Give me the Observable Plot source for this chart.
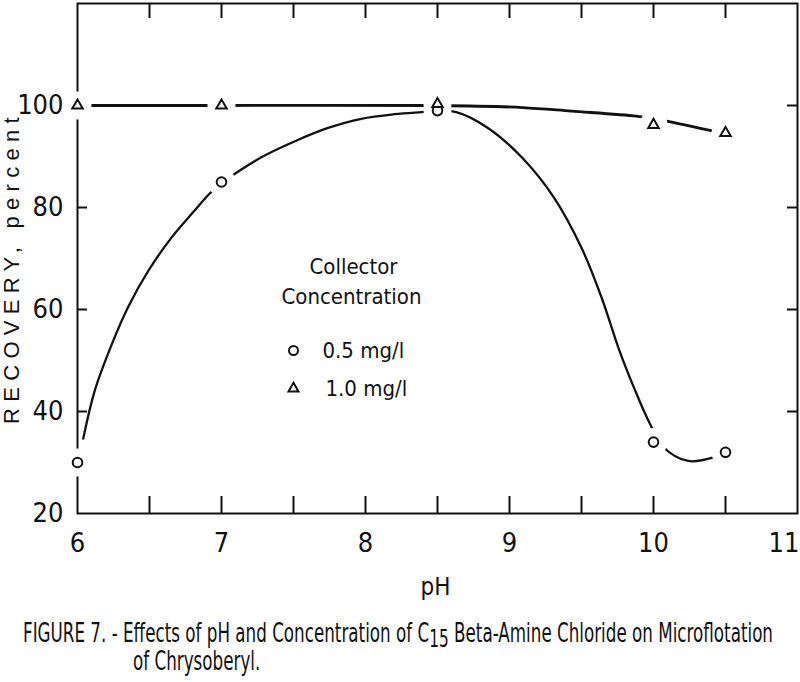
<!DOCTYPE html>
<html><head><meta charset="utf-8">
<script src="https://cdn.jsdelivr.net/npm/d3@7"></script>
<script src="https://cdn.jsdelivr.net/npm/@observablehq/plot@0.6"></script>
<style>
body{margin:0;background:#fff;}
#wrap{position:relative;width:800px;height:682px;overflow:hidden;background:#fff;}
.cap{position:absolute;font-family:"DejaVu Sans Condensed","Liberation Sans Narrow",sans-serif;font-size:26px;color:#111;white-space:nowrap;line-height:26px;transform-origin:0 50%;}
.sub{position:relative;top:5px;font-size:0.92em;}
</style></head><body>
<div id="wrap"><div id="chart"></div>
<div class="cap" id="cap1" style="left:23px;top:620px">FIGURE 7. - Effects of pH and Concentration of C<span class="sub">15</span> Beta-Amine Chloride on Microflotation</div>
<div class="cap" id="cap2" style="left:133px;top:648px">of Chrysoberyl.</div>
</div>
<script>
// measured points
const pH = [6, 7, 8.5, 10, 10.5];
const rec05 = [30, 85, 99, 34, 32];
const rec10 = [100, 100, 100.3, 96.2, 94.6];
// fitted curves
const fit05pH = [6.04, 6.12, 6.24, 6.35, 6.49, 6.65, 6.81, 6.92, 7.02, 7.13, 7.28, 7.51, 7.74, 7.97, 8.20, 8.39, 8.5, 8.63, 8.85, 9.09, 9.31, 9.50, 9.64, 9.76, 9.87, 9.97, 10.07, 10.24, 10.43, 10.47];
const fit05 = [34.7, 44.1, 53.3, 60.4, 67.5, 74.0, 79.3, 82.8, 85.2, 87.3, 89.9, 93.0, 95.6, 97.4, 98.3, 98.7, 98.9, 98.7, 95.6, 89.7, 81.9, 72.1, 62.3, 52.2, 44.3, 37.9, 33.0, 30.3, 31.1, 31.6];
const fit10pH = [6.0, 7.0, 8.5, 9.09, 9.43, 9.88, 10.0, 10.1, 10.43, 10.5];
const fit10 = [100, 100, 100, 99.6, 98.9, 97.9, 97.3, 96.9, 94.9, 94.6];
// axes
const xTickLabels = [6, 7, 8, 9, 10];
const xLastTick = [11];
const xMinorTicks = [6.5, 7, 7.5, 8, 8.5, 9, 9.5, 10, 10.5];
const yTickLabels = [20, 40, 60, 80, 100];
const yInnerTicks = [40, 60, 80, 100];
const xLabel = "pH";
const yLabel = "RECOVERY, percent";
const legendTitle = ["Collector", "Concentration"];
const legendLabels = ["0.5 mg/l", "1.0 mg/l"];

const circles = pH.map((x, i) => ({x, y: rec05[i]}));
const triangles = pH.map((x, i) => ({x, y: rec10[i]}));
const curve05 = fit05pH.map((x, i) => ({x, y: fit05[i]}));
const curve10 = fit10pH.map((x, i) => ({x, y: fit10[i]}));
const ink = "#111";
const font = "DejaVu Sans Condensed, Liberation Sans Narrow, sans-serif";

const chart = Plot.plot({
  width: 800, height: 600,
  marginLeft: 77, marginRight: 3, marginTop: 3, marginBottom: 87,
  x: {domain: [6, 11]},
  y: {domain: [20, 120]},
  style: {fontFamily: font, color: ink, background: "white", overflow: "visible"},
  marks: [
    Plot.frame({stroke: ink, strokeWidth: 2}),
    Plot.tickX(xMinorTicks, {x: d => d, insetTop: 493, stroke: ink, strokeWidth: 2}),
    Plot.tickX(xMinorTicks, {x: d => d, insetBottom: 495, stroke: ink, strokeWidth: 2}),
    Plot.tickY(yInnerTicks, {y: d => d, insetRight: 710, stroke: ink, strokeWidth: 2}),
    Plot.tickY(yInnerTicks, {y: d => d, insetLeft: 710, stroke: ink, strokeWidth: 2}),
    Plot.line(curve05, {x: "x", y: "y", curve: "catmull-rom", stroke: ink, strokeWidth: 2.3}),
    Plot.line(curve10, {x: "x", y: "y", curve: "catmull-rom", stroke: ink, strokeWidth: 2.8}),
    Plot.dot(circles.concat(triangles), {x: "x", y: "y", r: 14, fill: "white", stroke: null}),
    Plot.dot(circles, {x: "x", y: "y", r: 4.8, symbol: "circle", fill: "white", stroke: ink, strokeWidth: 2}),
    Plot.dot(triangles, {x: "x", y: "y", r: 3.9, symbol: "triangle", fill: "white", stroke: ink, strokeWidth: 2}),
    Plot.axisX({ticks: xTickLabels, tickSize: 0, tickPadding: 19, fontSize: 27, label: null, tickFormat: d => String(d)}),
    Plot.text(xLastTick, {x: d => d, frameAnchor: "bottom", dy: 19, dx: 2, textAnchor: "end", lineAnchor: "top", fontSize: 27, fill: ink}),
    Plot.axisY({ticks: yTickLabels, tickSize: 0, tickPadding: 14, fontSize: 27, label: null, tickFormat: d => String(d)}),
    Plot.text([xLabel], {frameAnchor: "bottom", dy: 74, dx: -2, lineAnchor: "middle", fontSize: 24, fill: ink}),
    Plot.text([yLabel], {frameAnchor: "left", rotate: -90, dx: -66, dy: 9, textAnchor: "middle", lineAnchor: "middle", fontSize: 22, fontFamily: "Liberation Sans, Arial, sans-serif", fill: ink}),
    Plot.text([legendTitle[0]], {frameAnchor: "top-left", dx: 276, dy: 263, textAnchor: "middle", lineAnchor: "middle", fontSize: 22, fill: ink}),
    Plot.text([legendTitle[1]], {frameAnchor: "top-left", dx: 274, dy: 293, textAnchor: "middle", lineAnchor: "middle", fontSize: 22, fill: ink}),
    Plot.dot([0], {frameAnchor: "top-left", dx: 216, dy: 347, r: 4.5, symbol: "circle", fill: "white", stroke: ink, strokeWidth: 2}),
    Plot.dot([0], {frameAnchor: "top-left", dx: 216, dy: 385, r: 3.7, symbol: "triangle", fill: "white", stroke: ink, strokeWidth: 2}),
    Plot.text([legendLabels[0]], {frameAnchor: "top-left", dx: 245, dy: 347, textAnchor: "start", lineAnchor: "middle", fontSize: 22, fill: ink}),
    Plot.text([legendLabels[1]], {frameAnchor: "top-left", dx: 248, dy: 385, textAnchor: "start", lineAnchor: "middle", fontSize: 22, fill: ink})
  ]
});
document.getElementById("chart").appendChild(chart);
chart.querySelectorAll("text").forEach(t => {
  if (t.textContent === yLabel) t.setAttribute("letter-spacing", "6.3");
});
// fit caption width to the reference line length
const c1 = document.getElementById("cap1"), c2 = document.getElementById("cap2");
const s = 750 / c1.getBoundingClientRect().width;
c1.style.transform = `scaleX(${s})`;
c2.style.transform = `scaleX(${s})`;
</script>
</body></html>
